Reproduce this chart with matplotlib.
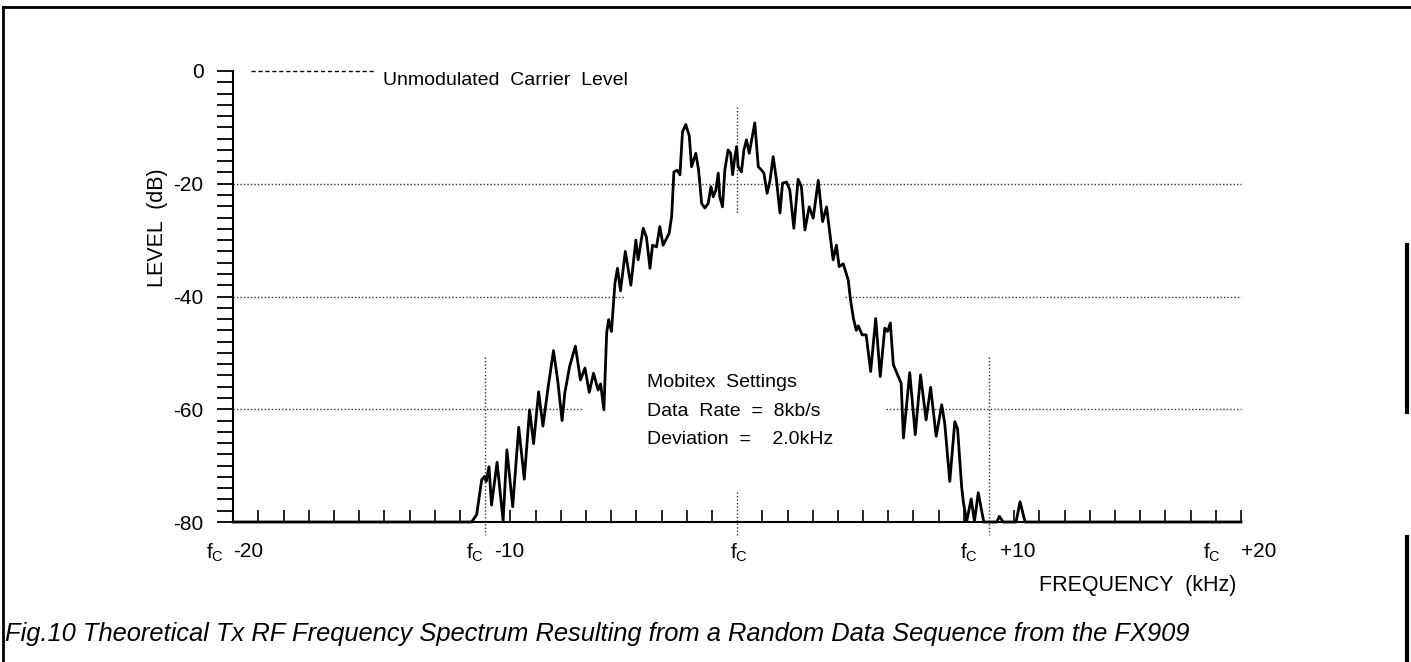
import matplotlib
matplotlib.use('Agg')
import matplotlib.pyplot as plt
from matplotlib.lines import Line2D

plt.rcParams['font.family'] = ['Liberation Sans', 'DejaVu Sans']
plt.rcParams['mathtext.fontset'] = 'custom'
plt.rcParams['mathtext.rm'] = 'Liberation Sans'
plt.rcParams['mathtext.it'] = 'Liberation Sans:italic'

# spectrum: offset from fc (kHz) and level (dB)
freq = [-20, -10.6, -10.54, -10.34, -10.14, -10.03, -9.96, -9.85, -9.75, -9.53, -9.29,
        -9.14, -8.91, -8.67, -8.45, -8.24, -8.08, -7.88, -7.71, -7.50, -7.29, -7.12,
        -6.95, -6.84, -6.65, -6.42, -6.22, -6.04, -5.87, -5.70, -5.52, -5.42, -5.29,
        -5.18, -5.10, -4.99, -4.85, -4.75, -4.63, -4.44, -4.22, -4.02, -3.93, -3.73,
        -3.60, -3.46, -3.36, -3.20, -3.07, -2.94, -2.70, -2.60, -2.51, -2.38, -2.27,
        -2.17, -2.04, -1.90, -1.81, -1.64, -1.53, -1.41, -1.28, -1.15, -1.04, -0.95,
        -0.85, -0.75, -0.69, -0.58, -0.49, -0.36, -0.26, -0.18, -0.09, -0.02, 0.04,
        0.17, 0.27, 0.37, 0.48, 0.70, 0.84, 0.97, 1.06, 1.19, 1.30, 1.43, 1.56, 1.70,
        1.80, 1.96, 2.09, 2.25, 2.42, 2.55, 2.69, 2.86, 3.02, 3.22, 3.39, 3.55, 3.68,
        3.81, 3.94, 4.05, 4.21, 4.41, 4.50, 4.62, 4.73, 4.81, 4.96, 5.12, 5.30, 5.50,
        5.68, 5.86, 5.97, 6.08, 6.20, 6.51, 6.60, 6.85, 7.07, 7.28, 7.50, 7.68, 7.90,
        8.12, 8.24, 8.44, 8.64, 8.75, 8.91, 8.98, 9.11, 9.29, 9.42, 9.57, 9.79, 10.30,
        10.41, 10.56, 11.07, 11.23, 11.43, 20]
level = [-80, -80, -80, -78.7, -72.5, -71.9, -72.8, -70.2, -77.0, -69.4, -79.8,
         -67.2, -77.3, -63.2, -72.4, -60.1, -66.1, -56.9, -63.0, -56.0, -49.6, -55.0,
         -62.0, -57.1, -52.4, -48.8, -54.8, -52.7, -57.0, -53.6, -56.6, -55.5, -60.1,
         -46.5, -44.1, -46.2, -37.6, -35.0, -39.0, -32.0, -38.0, -30.0, -33.5, -27.9,
         -29.5, -35.0, -30.9, -31.2, -27.6, -30.9, -28.8, -25.8, -17.9, -17.6, -18.4,
         -10.8, -9.5, -11.5, -17.0, -14.6, -17.6, -23.5, -24.3, -23.5, -20.5, -22.3,
         -21.2, -18.1, -22.3, -24.1, -17.6, -14.0, -14.6, -18.4, -15.2, -13.4, -17.0,
         -17.9, -14.0, -12.2, -14.6, -9.2, -17.0, -17.6, -18.1, -21.7, -19.5, -15.2,
         -19.3, -25.2, -19.9, -19.7, -21.1, -27.9, -19.2, -20.5, -28.2, -24.1, -26.1,
         -19.4, -26.7, -24.1, -28.8, -33.5, -30.9, -34.7, -34.2, -37.1, -40.6, -44.0,
         -46.0, -45.2, -46.8, -46.8, -53.3, -43.9, -54.2, -45.6, -46.2, -44.7, -52.1,
         -55.4, -65.1, -53.5, -64.5, -53.9, -61.9, -56.1, -64.8, -59.2, -62.5, -72.8,
         -62.2, -63.5, -73.7, -76.5, -79.9, -75.9, -79.9, -74.8, -80, -80, -79.0, -80,
         -80, -76.4, -80, -80]

ylabels = ['0', '-20', '-40', '-60', '-80']
yvals = [0, -20, -40, -60, -80]
xlab_pos = [-20, -10, 0, 10, 20]
xlab_num = ['-20', '-10', '', '+10', '+20']
settings = ['Mobitex  Settings', 'Data  Rate  =  8kb/s', 'Deviation  =    2.0kHz']

W, H = 1411, 662
PX = 25.2  # px per kHz

fig = plt.figure(figsize=(W / 100, H / 100), dpi=100)
ax = fig.add_axes([233.3 / W, 140 / H, (1241 - 233.3) / W, (522 - 71) / H])

ax.plot(freq, level, color='black', lw=2.0, solid_joinstyle='round', zorder=3, clip_on=False)

ax.set_xlim(-20, 20)
ax.set_ylim(-80, 0)
ax.spines['top'].set_visible(False)
ax.spines['right'].set_visible(False)
ax.spines['left'].set_linewidth(1.5)
ax.spines['bottom'].set_linewidth(1.5)

# x ticks every kHz, skipping the dotted reference positions
ax.set_xticks([i for i in range(-19, 21) if i not in (-10, 0, 10)])
ax.set_xticklabels([])
ax.tick_params(axis='x', direction='in', length=8.5, width=1.2)

ax.set_yticks(yvals)
ax.set_yticklabels(ylabels, fontsize=15)
ax.set_yticks(range(-80, 1, 2), minor=True)
ax.tick_params(axis='y', which='both', direction='out', length=11.5, width=1.3, pad=10)

# dotted reference lines
dot = dict(color='0.2', lw=1.0, linestyle=(0, (1, 1.5)), zorder=1, clip_on=False)
for yv, x0, x1 in [(-20, -20, 20), (-40, -20, -4.5), (-40, 4.3, 20),
                   (-60, -20, -6.1), (-60, 5.9, 20)]:
    ax.plot([x0, x1], [yv, yv], **dot)
for xv, y0, y1 in [(-10, -50.7, -82.3), (0, -6.4, -25.2), (0, -74.7, -82.3),
                   (10, -50.7, -82.3)]:
    ax.plot([xv, xv], [y0, y1], **dot)

# unmodulated carrier marker
ax.plot([-19.3, -14.4], [0, 0], color='black', lw=1.0, dashes=(3, 2), clip_on=False)
ax.text(-14.05, -1.6, 'Unmodulated  Carrier  Level', ha='left', va='center', fontsize=14)

for i, s in enumerate(settings):
    ax.text(-3.58, -55.3 - i * 5.05, s, ha='left', va='center', fontsize=14)

# x labels: f_C plus offset
foff = [-9, -1, 12, -11, -20]
noff = [0, 9, 0, 11, 0]
for p, n, fo, no in zip(xlab_pos, xlab_num, foff, noff):
    if n:
        ax.text(p + fo / PX, -85.5, r'$\mathregular{f_C}$', ha='right', va='center',
                fontsize=15, clip_on=False)
        ax.text(p + no / PX, -85.3, n, ha='left', va='center', fontsize=15, clip_on=False)
    else:
        ax.text(p + 2 / PX, -85.5, r'$\mathregular{f_C}$', ha='center', va='center',
                fontsize=15, clip_on=False)

fig.text(157 / W, 1 - 228 / H, 'LEVEL  (dB)', rotation=90, ha='center', va='center', fontsize=15.5)
fig.text(1236 / W, 1 - 585 / H, 'FREQUENCY  (kHz)', ha='right', va='center', fontsize=15.5)
fig.text(5 / W, 1 - 634 / H,
         'Fig.10 Theoretical Tx RF Frequency Spectrum Resulting from a Random Data Sequence from the FX909',
         ha='left', va='center', fontsize=18.4, style='italic')

# scanned frame
fig.add_artist(Line2D([3 / W, 1], [1 - 7 / H, 1 - 7 / H], color='black', lw=2))
fig.add_artist(Line2D([3 / W, 3 / W], [0, 1 - 7 / H], color='black', lw=2))
fig.add_artist(Line2D([1407 / W, 1407 / W], [1 - 245 / H, 1 - 412 / H], color='black', lw=3))
fig.add_artist(Line2D([1407 / W, 1407 / W], [1 - 537 / H, 0], color='black', lw=3))

fig.savefig('out.png', dpi=100)
